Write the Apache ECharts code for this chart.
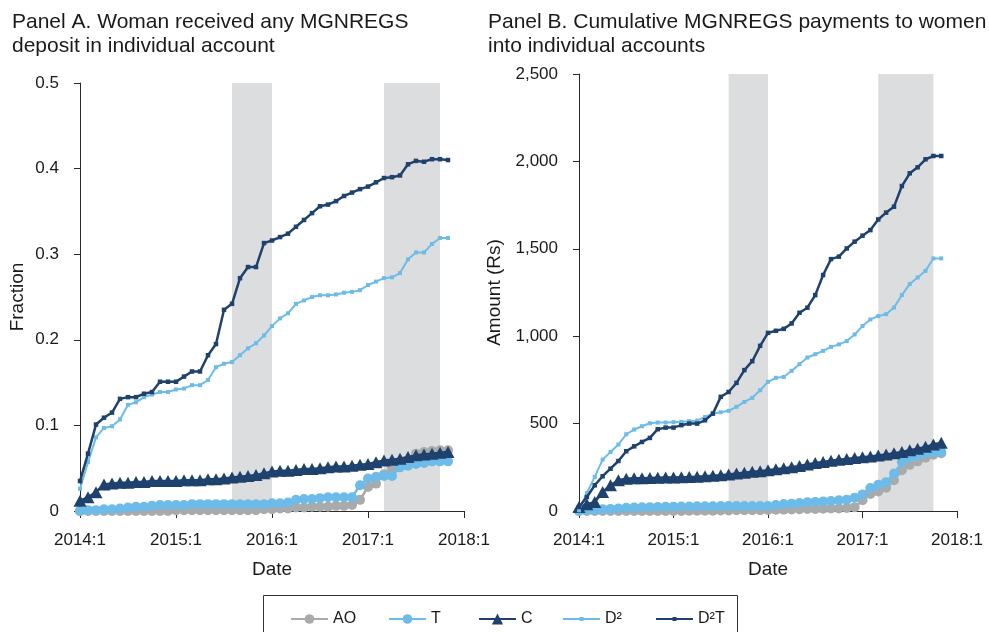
<!DOCTYPE html>
<html>
<head>
<meta charset="utf-8">
<script src="https://cdn.jsdelivr.net/npm/echarts@6/dist/echarts.min.js"></script>
<style>
html,body{margin:0;padding:0;background:#fff;}
#c{width:989px;height:632px;}
</style>
</head>
<body>
<div id="c"></div>
<script>
// Months since 2014:1 (index 0 = 2014:1 ... 46 = 2017:11)
const xTickLabels = ['2014:1','2015:1','2016:1','2017:1','2018:1'];
const seriesNames = ['AO','T','C','D\u00B2','D\u00B2T'];
const bandsMonths = [[19,24],[38,45]];

// Panel A: fraction
const aAO = [0,0,0,0,0,0,0,0,0,0, 0,0,0.001,0.001,0.001,0.001,0.001,0.001,0.001,0.001, 0.001,0.001,0.001,0.002,0.002,0.003,0.003,0.004,0.004,0.005, 0.005,0.005,0.006,0.006,0.007,0.013,0.028,0.032,0.043,0.050, 0.053,0.057,0.067,0.069,0.070,0.071,0.071];
const aT = [0.000,0.001,0.001,0.002,0.002,0.003,0.004,0.005,0.005,0.006, 0.007,0.007,0.007,0.007,0.008,0.008,0.008,0.008,0.008,0.008, 0.008,0.008,0.008,0.008,0.009,0.009,0.010,0.013,0.014,0.014, 0.015,0.016,0.016,0.016,0.016,0.030,0.038,0.040,0.041,0.041, 0.051,0.053,0.055,0.056,0.058,0.058,0.058];
const aC = [0.012,0.016,0.022,0.031,0.032,0.033,0.033,0.034,0.034,0.035, 0.035,0.035,0.035,0.036,0.036,0.036,0.037,0.037,0.038,0.039, 0.040,0.041,0.042,0.044,0.046,0.047,0.047,0.048,0.049,0.049, 0.050,0.051,0.052,0.052,0.053,0.054,0.055,0.057,0.059,0.060, 0.061,0.063,0.065,0.066,0.067,0.068,0.069];
const aD2 = [0.026,0.057,0.086,0.097,0.099,0.107,0.124,0.127,0.133,0.136, 0.139,0.139,0.142,0.143,0.147,0.147,0.153,0.168,0.172,0.174, 0.182,0.190,0.196,0.205,0.216,0.225,0.231,0.242,0.246,0.250, 0.252,0.252,0.253,0.255,0.256,0.258,0.264,0.268,0.272,0.273, 0.278,0.294,0.302,0.302,0.312,0.319,0.319];
const aD2T = [0.035,0.067,0.101,0.109,0.115,0.131,0.133,0.133,0.137,0.139, 0.151,0.151,0.151,0.157,0.163,0.163,0.182,0.195,0.235,0.242, 0.272,0.285,0.285,0.313,0.316,0.320,0.324,0.332,0.340,0.348, 0.356,0.358,0.362,0.368,0.372,0.376,0.379,0.384,0.389,0.390, 0.392,0.405,0.409,0.408,0.411,0.411,0.410];

// Panel B: cumulative amount (Rs)
const bAO = [0,0,0,0,0,0,0,0,0,0, 0,0,0,0,1,1,2,2,3,3, 4,4,5,5,6,7,8,9,10,11, 12,13,14,15,17,22,61,97,112,133, 176,233,264,284,305,322,330];
const bT = [0,4,8,10,12,14,19,20,21,22, 23,24,25,26,26,27,27,27,28,28, 28,28,29,29,29,34,40,42,46,50, 52,55,57,61,65,76,95,132,150,165, 214,280,304,318,329,337,338];
const bC = [23,38,52,109,147,176,185,187,188,189, 190,191,192,193,194,196,199,202,205,209, 214,219,224,228,233,239,245,250,258,266, 275,281,287,293,298,303,307,312,318,323, 330,338,347,356,367,380,390];
const bD2 = [4,103,195,294,338,380,439,466,485,502, 506,506,508,510,514,517,538,557,565,573, 596,624,647,691,739,762,767,802,840,878, 897,916,939,953,972,1010,1058,1096,1115,1126, 1164,1235,1298,1336,1374,1445,1445];
const bD2T = [23,80,147,199,242,286,342,370,395,418, 468,477,477,491,500,500,519,557,653,681, 733,806,857,945,1019,1031,1042,1073,1134,1163, 1235,1350,1441,1455,1502,1541,1575,1607,1668,1707, 1741,1859,1932,1966,2012,2031,2031];

const NAVY = '#1f416d', LBLUE = '#6dbbe8', GRAY = '#a9aaac', BAND = '#dcdddf', AXIS = '#2a2a2a', TXT = '#1a1a1a';
const FONT = '"Liberation Sans", Arial, Helvetica, sans-serif';

function pairs(arr){ return arr.map((v,i)=>[i,v]); }

function makeSeries(gi, vals){
  const [ao,t,c,d2,d2t] = vals;
  return [
    {name: seriesNames[0], type:'line', xAxisIndex:gi, yAxisIndex:gi, data:pairs(ao), color:GRAY,
     symbol:'circle', symbolSize:10, lineStyle:{width:2.5,color:GRAY}, itemStyle:{color:GRAY}, z:3},
    {name: seriesNames[1], type:'line', xAxisIndex:gi, yAxisIndex:gi, data:pairs(t), color:LBLUE,
     symbol:'circle', symbolSize:10, lineStyle:{width:2.5,color:LBLUE}, itemStyle:{color:LBLUE}, z:4},
    {name: seriesNames[2], type:'line', xAxisIndex:gi, yAxisIndex:gi, data:pairs(c), color:NAVY,
     symbol:'triangle', symbolSize:[13,12], lineStyle:{width:2.5,color:NAVY}, itemStyle:{color:NAVY}, z:5},
    {name: seriesNames[3], type:'line', xAxisIndex:gi, yAxisIndex:gi, data:pairs(d2), color:LBLUE,
     symbol:'rect', symbolSize:4, lineStyle:{width:2,color:LBLUE}, itemStyle:{color:LBLUE}, z:6},
    {name: seriesNames[4], type:'line', xAxisIndex:gi, yAxisIndex:gi, data:pairs(d2t), color:NAVY,
     symbol:'rect', symbolSize:4.5, lineStyle:{width:2.5,color:NAVY}, itemStyle:{color:NAVY}, z:7},
  ];
}

function bandSeries(gi, top){
  return {name:'band'+gi, type:'line', xAxisIndex:gi, yAxisIndex:gi, data:[], clip:false, silent:true, z:1,
    markArea:{silent:true, itemStyle:{color:BAND}, data: bandsMonths.map(b=>[{xAxis:b[0], yAxis:0},{xAxis:b[1], yAxis:top}])}};
}

function xAx(gi){
  return {gridIndex:gi, type:'value', min:0, max:48, interval:12, offset:12,
    axisLine:{show:true, lineStyle:{color:AXIS,width:1}},
    axisTick:{show:true, length:7, lineStyle:{color:AXIS}},
    axisLabel:{fontSize:17, color:TXT, fontFamily:FONT, margin:9, formatter:(v)=>xTickLabels[v/12]},
    splitLine:{show:false},
    name:'Date', nameLocation:'middle', nameGap:37, nameTextStyle:{fontSize:19, color:TXT, fontFamily:FONT}};
}
function yAx(gi, max, interval, name, gap, fmt){
  return {gridIndex:gi, type:'value', min:0, max:max, interval:interval, offset:13,
    axisLine:{show:true, lineStyle:{color:AXIS,width:1}},
    axisTick:{show:true, length:6, lineStyle:{color:AXIS}},
    axisLabel:{fontSize:17, color:TXT, fontFamily:FONT, margin:8, formatter:fmt},
    splitLine:{show:false},
    name:name, nameLocation:'middle', nameGap:gap, nameTextStyle:{fontSize:19, color:TXT, fontFamily:FONT}};
}

const legendLefts = [285, 383, 473, 557, 650];
const legendHeights = [12, 12, 14, 5, 5];
const legends = seriesNames.map((n,i)=>({data:[n], left:legendLefts[i], top:606, itemWidth:37, itemHeight:legendHeights[i], itemGap:0,
  textStyle:{fontSize:16, color:TXT, fontFamily:FONT}, selectedMode:false}));

const option = {
  animation:false,
  backgroundColor:'#fff',
  textStyle:{fontFamily:FONT},
  title:[
    {text:'Panel A. Woman received any MGNREGS\ndeposit in individual account', left:7, top:5,
     textStyle:{fontSize:21, fontWeight:'normal', color:TXT, fontFamily:FONT, lineHeight:24}},
    {text:'Panel B. Cumulative MGNREGS payments to women\ninto individual accounts', left:483, top:5,
     textStyle:{fontSize:21, fontWeight:'normal', color:TXT, fontFamily:FONT, lineHeight:24}}
  ],
  legend: legends,
  grid:[
    {left:80, right:525, top:83, bottom:121},
    {left:579, right:32, top:74, bottom:121}
  ],
  xAxis:[xAx(0), xAx(1)],
  yAxis:[
    yAx(0, 0.5, 0.1, 'Fraction', 40, (v)=> v===0 ? '0' : v.toFixed(1)),
    yAx(1, 2500, 500, 'Amount (Rs)', 62, (v)=> v.toLocaleString('en-US'))
  ],
  graphic:[
    {type:'rect', shape:{x:263.5, y:595.5, width:474, height:60}, style:{fill:'none', stroke:'#333', lineWidth:1}, z:0}
  ],
  series:[
    bandSeries(0, 0.511), bandSeries(1, 2500),
    ...makeSeries(0, [aAO,aT,aC,aD2,aD2T]),
    ...makeSeries(1, [bAO,bT,bC,bD2,bD2T])
  ]
};

const chart = echarts.init(document.getElementById('c'), null, {renderer:'canvas'});
chart.setOption(option);
</script>
</body>
</html>
